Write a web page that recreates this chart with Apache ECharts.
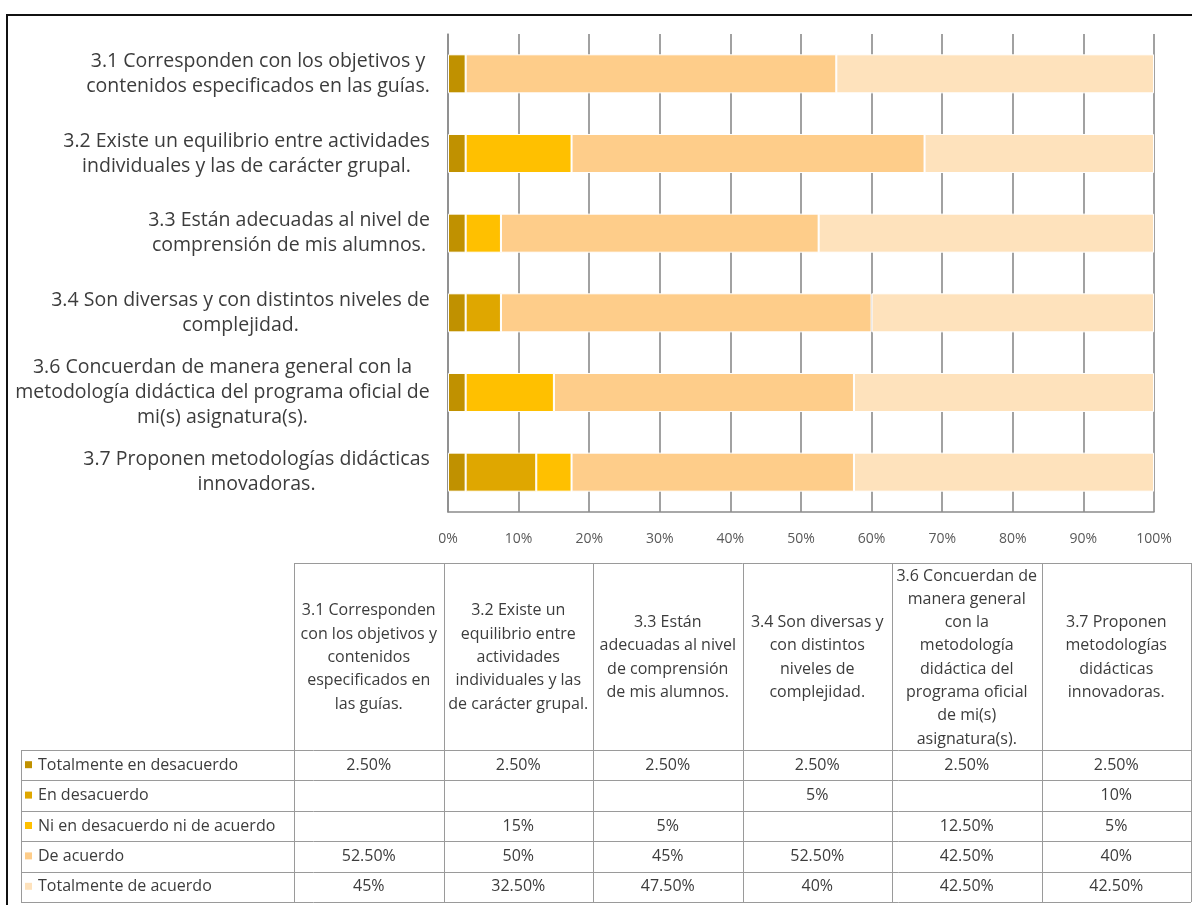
<!DOCTYPE html>
<html>
<head>
<meta charset="utf-8">
<script src="https://cdn.jsdelivr.net/npm/echarts@6/dist/echarts.min.js"></script>
<style>
  html, body { margin: 0; padding: 0; background: #ffffff; }
  #chart { width: 1192px; height: 905px; }
</style>
</head>
<body>
<div id="chart"></div>
<script>
// ---- Data ----
// Category labels as they break on the chart's vertical axis
const axisLabelLines = [
  ['3.1 Corresponden con los objetivos y', 'contenidos especificados en las guías.'],
  ['3.2 Existe un equilibrio entre actividades', 'individuales y las de carácter grupal.'],
  ['3.3 Están adecuadas al nivel de', 'comprensión de mis alumnos.'],
  ['3.4 Son diversas y con distintos niveles de', 'complejidad.'],
  ['3.6 Concuerdan de manera general con la', 'metodología didáctica del programa oficial de', 'mi(s) asignatura(s).'],
  ['3.7 Proponen metodologías didácticas', 'innovadoras.']
];
// The same categories as they break in the data-table header
const tableHeaderLines = [
  ['3.1 Corresponden', 'con los objetivos y', 'contenidos', 'especificados en', 'las guías.'],
  ['3.2 Existe un', 'equilibrio entre', 'actividades', 'individuales y las', 'de carácter grupal.'],
  ['3.3 Están', 'adecuadas al nivel', 'de comprensión', 'de mis alumnos.'],
  ['3.4 Son diversas y', 'con distintos', 'niveles de', 'complejidad.'],
  ['3.6 Concuerdan de', 'manera general', 'con la', 'metodología', 'didáctica del', 'programa oficial', 'de mi(s)', 'asignatura(s).'],
  ['3.7 Proponen', 'metodologías', 'didácticas', 'innovadoras.']
];

const seriesNames = [
  'Totalmente en desacuerdo',
  'En desacuerdo',
  'Ni en desacuerdo ni de acuerdo',
  'De acuerdo',
  'Totalmente de acuerdo'
];

// Percentages per category (null = no answers in that group)
const totalmenteEnDesacuerdo = [2.5, 2.5, 2.5, 2.5, 2.5, 2.5];
const enDesacuerdo           = [null, null, null, 5, null, 10];
const niEnDesacuerdoNiDeAcuerdo = [null, 15, 5, null, 12.5, 5];
const deAcuerdo              = [52.5, 50, 45, 52.5, 42.5, 40];
const totalmenteDeAcuerdo    = [45, 32.5, 47.5, 40, 42.5, 42.5];

const seriesValues = [totalmenteEnDesacuerdo, enDesacuerdo, niEnDesacuerdoNiDeAcuerdo, deAcuerdo, totalmenteDeAcuerdo];
const seriesColors = ['#C09100', '#DFA700', '#FFC000', '#FECD8A', '#FEE2BC'];

const xTickValues = [0, 10, 20, 30, 40, 50, 60, 70, 80, 90, 100];

// ---- Styling ----
const FONT = '"Open Sans", "Noto Sans", "Liberation Sans", sans-serif';
const LABEL_SIZE = 19.5;
const TABLE_SIZE = 16;
const TEXT_COLOR = '#3c3c3c';

// Width of the longest line of each axis label, so each block is right-aligned
// against the axis while its lines stay centred on each other
const measureCtx = document.createElement('canvas').getContext('2d');
measureCtx.font = LABEL_SIZE + 'px ' + FONT;
const rich = {};
axisLabelLines.forEach((lines, i) => {
  const w = Math.max(...lines.map(l => measureCtx.measureText(l).width));
  rich['c' + i] = {
    width: Math.ceil(w) + 2,
    align: 'center',
    fontSize: LABEL_SIZE,
    fontFamily: FONT,
    color: TEXT_COLOR,
    lineHeight: 25
  };
});
const categories = axisLabelLines.map(lines => lines.join(' '));

function pctText(v) {
  if (v === null || v === undefined) return '';
  return (Number.isInteger(v) ? String(v) : v.toFixed(2)) + '%';
}

// ---- Data table under the chart ----
const table = {
  left: 21, firstCol: 294, colW: 149.5, right: 1191,
  top: 563, headBottom: 750, rowH: 30.4
};
const LINE_COLOR = '#9a9a9a';
const graphics = [];
function hLine(x1, x2, y) {
  graphics.push({ type: 'line', silent: true,
    shape: { x1: x1, y1: Math.round(y) + 0.5, x2: x2, y2: Math.round(y) + 0.5 },
    style: { stroke: LINE_COLOR, lineWidth: 1 } });
}
function vLine(x, y1, y2) {
  graphics.push({ type: 'line', silent: true,
    shape: { x1: Math.round(x) + 0.5, y1: y1, x2: Math.round(x) + 0.5, y2: y2 },
    style: { stroke: LINE_COLOR, lineWidth: 1 } });
}
const nRows = seriesNames.length;
const tableBottom = table.headBottom + nRows * table.rowH;
// header top border and column borders
hLine(table.firstCol, table.right, table.top);
for (let c = 0; c <= categories.length; c++) {
  const x = Math.min(table.firstCol + c * table.colW, table.right);
  vLine(x, table.top, tableBottom);
}
// row borders
for (let r = 0; r <= nRows; r++) {
  hLine(table.left, table.right, table.headBottom + r * table.rowH);
}
vLine(table.left, table.headBottom, tableBottom);

// header texts
tableHeaderLines.forEach((lines, c) => {
  graphics.push({
    type: 'text', silent: true,
    x: table.firstCol + (c + 0.5) * table.colW,
    y: (table.top + table.headBottom) / 2 + 1,
    style: {
      text: lines.join('\n'), fontSize: TABLE_SIZE, fontFamily: FONT,
      fill: TEXT_COLOR, align: 'center', verticalAlign: 'middle', lineHeight: 23.3
    }
  });
});
// rows: legend key, series name, values
seriesNames.forEach((name, r) => {
  const cy = table.headBottom + (r + 0.5) * table.rowH;
  graphics.push({ type: 'rect', silent: true,
    shape: { x: table.left + 4, y: cy - 4, width: 7, height: 7 },
    style: { fill: seriesColors[r] } });
  graphics.push({ type: 'text', silent: true, x: table.left + 17, y: cy,
    style: { text: name, fontSize: TABLE_SIZE, fontFamily: FONT, fill: TEXT_COLOR,
             align: 'left', verticalAlign: 'middle' } });
  seriesValues[r].forEach((v, c) => {
    graphics.push({ type: 'text', silent: true,
      x: table.firstCol + (c + 0.5) * table.colW, y: cy,
      style: { text: pctText(v), fontSize: TABLE_SIZE, fontFamily: FONT, fill: TEXT_COLOR,
               align: 'center', verticalAlign: 'middle' } });
  });
});

// outer frame (top and left edges visible)
graphics.push({ type: 'polyline', silent: true,
  shape: { points: [[7, 910], [7, 15], [1200, 15]] },
  style: { stroke: '#111111', lineWidth: 2, fill: null } });

// ---- Chart ----
const chart = echarts.init(document.getElementById('chart'), null, { renderer: 'canvas' });
chart.setOption({
  backgroundColor: '#ffffff',
  animation: false,
  grid: { left: 448, right: 38, top: 34, bottom: 393, containLabel: false },
  xAxis: {
    type: 'value', min: 0, max: 100, interval: 10,
    axisLine: { show: true, lineStyle: { color: '#8c8c8c', width: 1.5 } },
    axisTick: { show: false },
    splitLine: { show: true, lineStyle: { color: '#828282', width: 1.5 } },
    axisLabel: {
      formatter: v => xTickValues.includes(v) ? v + '%' : '',
      fontSize: 14, fontFamily: FONT, color: '#595959', margin: 20
    }
  },
  yAxis: {
    type: 'category', inverse: true, data: categories,
    axisLine: { show: true, lineStyle: { color: '#8c8c8c', width: 1.5 } },
    axisTick: { show: false },
    axisLabel: {
      margin: 17,
      formatter: (value, idx) => axisLabelLines[idx].map(l => '{c' + idx + '|' + l + '}').join('\n'),
      rich: rich
    }
  },
  series: seriesNames.map((name, i) => ({
    name: name, type: 'bar', stack: 'total', barWidth: '49%',
    data: seriesValues[i],
    itemStyle: { color: seriesColors[i], borderColor: '#ffffff', borderWidth: 1 },
    emphasis: { disabled: true }
  })),
  graphic: graphics
});
</script>
</body>
</html>
